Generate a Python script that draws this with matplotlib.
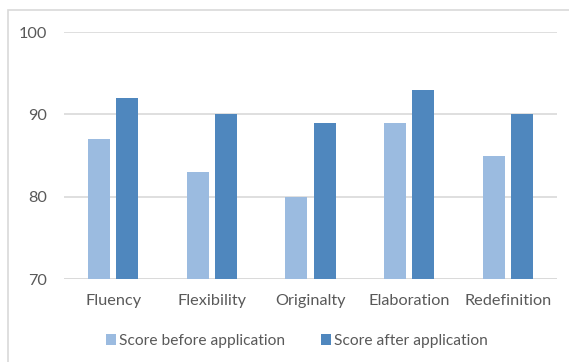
import matplotlib
matplotlib.use("Agg")
import matplotlib.pyplot as plt
from matplotlib.patches import Rectangle
import numpy as np

categories = ["Fluency", "Flexibility", "Originalty", "Elaboration", "Redefinition"]
before = [87, 83, 80, 89, 85]
after = [92, 90, 89, 93, 90]
yticks = [70, 80, 90, 100]

W, H = 569, 362
fig = plt.figure(figsize=(W / 100, H / 100), dpi=100)
plt.rcParams["font.family"] = ["Lato", "DejaVu Sans"]

# chart frame (runs off the right and bottom edges)
fig.patches.append(Rectangle((8 / W, 0 - 0.1), 1.2, 1 - 10 / H + 0.1,
                             transform=fig.transFigure, fill=False,
                             edgecolor="#D9D9D9", linewidth=1.2))

left, right = 64 / W, 557 / W
bottom, top = 1 - 279 / H, 1 - 32 / H
ax = fig.add_axes([left, bottom, right - left, top - bottom])

x = np.arange(len(categories))
bw = 0.225
off = 0.143
ax.bar(x - off, [b - 70 for b in before], bw, bottom=70, color="#9BBBE0",
       label="Score before application", zorder=3)
ax.bar(x + off, [a - 70 for a in after], bw, bottom=70, color="#4F87BE",
       label="Score after application", zorder=3)

ax.set_xlim(-0.5, len(categories) - 0.5)
ax.set_ylim(70, 100)
ax.set_yticks(yticks)
ax.set_xticks(x)
ax.set_xticklabels(categories)
ax.grid(axis="y", color="#D9D9D9", linewidth=1.2, zorder=0)
for s in ax.spines.values():
    s.set_visible(False)
ax.axhline(70, color="#D9D9D9", linewidth=1.2, zorder=1)
ax.tick_params(axis="both", length=0, labelsize=11.7, colors="#595959")
ax.tick_params(axis="y", pad=12)
ax.tick_params(axis="x", pad=11)

fig.legend(loc="center", bbox_to_anchor=(297 / W, 1 - 341 / H), ncol=2,
           frameon=False, fontsize=11.2, labelcolor="#595959",
           handlelength=0.65, handleheight=0.65, handletextpad=0.2,
           columnspacing=2.3)

fig.savefig("out.png", dpi=100)
